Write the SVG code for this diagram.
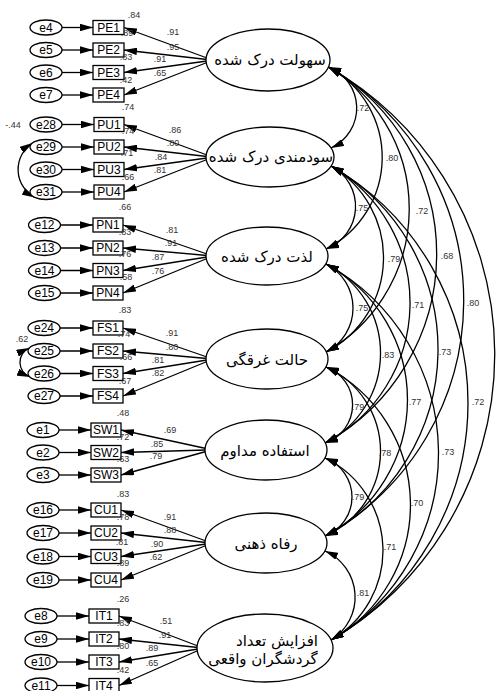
<svg xmlns="http://www.w3.org/2000/svg" width="500" height="691" viewBox="0 0 500 691">
  <defs>
    <marker id="ah" viewBox="0 0 13 7.5" refX="13" refY="3.75" markerWidth="13" markerHeight="7.5" markerUnits="userSpaceOnUse" orient="auto-start-reverse">
      <path d="M0,0 L13,3.75 L0,7.5 z" fill="#000"/>
    </marker>
    <style>
      .shape { fill: #fff; stroke: #000; stroke-width: 1.3; }
      .ln { fill: none; stroke: #000; stroke-width: 1.3; }
      .arr { marker-end: url(#ah); }
      .cov { marker-start: url(#ah); marker-end: url(#ah); }
      .lbl { font-family: "Liberation Sans", Arial, sans-serif; font-size: 12px; text-anchor: middle; fill: #000; }
      .num { font-family: "Liberation Sans", Arial, sans-serif; font-size: 9px; text-anchor: middle; fill: #333; }
      .fa { font-family: "DejaVu Sans", sans-serif; font-size: 15px; text-anchor: middle; fill: #000; }
    </style>
  </defs>

  <!-- connectors: error arrows, loadings, covariances -->
  <g id="connectors">
    <!-- error terms to indicators -->
    <g class="ln arr">
      <path d="M62,27.5 L93,27.5"/><path d="M62,50 L93,50"/><path d="M62,72.5 L93,72.5"/><path d="M62,95 L93,95"/>
      <path d="M62,124.5 L94,124.5"/><path d="M62,147 L94,147"/><path d="M62,169.5 L94,169.5"/><path d="M62,192 L94,192"/>
      <path d="M60.5,225 L93,225"/><path d="M60.5,248 L93,248"/><path d="M60.5,270.5 L93,270.5"/><path d="M60.5,293 L93,293"/>
      <path d="M60,328 L93,328"/><path d="M60,351 L93,351"/><path d="M60,373.5 L93,373.5"/><path d="M60,396 L93,396"/>
      <path d="M59,430 L91,430"/><path d="M59,452.5 L91,452.5"/><path d="M59,475 L91,475"/>
      <path d="M59,510 L91,510"/><path d="M59,533 L91,533"/><path d="M59,556.5 L91,556.5"/><path d="M59,580 L91,580"/>
      <path d="M57,616 L89,616"/><path d="M57,639 L89,639"/><path d="M57,662 L89,662"/><path d="M57,685.5 L89,685.5"/>
    </g>
    <!-- factor loadings -->
    <g class="ln arr">
      <path d="M207,58 L124,27.5"/><path d="M207,59.5 L124,50"/><path d="M207,61 L124,72.5"/><path d="M207,62.5 L124,95"/>
      <path d="M207,155 L124,124.5"/><path d="M207,156.5 L124,147"/><path d="M207,158 L124,169.5"/><path d="M207,159.5 L124,192"/>
      <path d="M207,254 L123,225"/><path d="M207,255.5 L123,248"/><path d="M207,257 L123,270.5"/><path d="M207,258.5 L123,293"/>
      <path d="M207,357 L123,328"/><path d="M207,358.5 L123,351"/><path d="M207,360 L123,373.5"/><path d="M207,361.5 L123,396"/>
      <path d="M206,448.5 L121,430"/><path d="M206,450 L121,452.5"/><path d="M206,451.5 L121,475"/>
      <path d="M206,541 L121,510"/><path d="M206,542.5 L121,533"/><path d="M206,544 L121,556.5"/><path d="M206,545.5 L121,580"/>
      <path d="M198,646 L119,616"/><path d="M198,647.5 L119,639"/><path d="M198,649 L119,662"/><path d="M198,650.5 L119,685.5"/>
    </g>
    <!-- error covariances -->
    <g class="ln cov">
      <path d="M32.5,143 A31.6,31.6 0 0 0 35,197.5"/>
      <path d="M29.3,348 A15.7,15.7 0 0 0 30,377"/>
    </g>
    <!-- latent covariances -->
    <g class="ln cov">
      <path d="M328.4,67 A43.9,43.9 0 0 1 331,148"/>
      <path d="M331,166 A45.5,45.5 0 0 1 326,249"/>
      <path d="M326,264 A49.35,49.35 0 0 1 326,352"/>
      <path d="M326,367 A40.2,40.2 0 0 1 325,443"/>
      <path d="M325,458 A41.67,41.67 0 0 1 325,536"/>
      <path d="M325,551 A50.3,50.3 0 0 1 331,640"/>
      <path d="M328.4,67 A102.8,102.8 0 0 1 326,249"/>
      <path d="M331,166 A106.2,106.2 0 0 1 326,352"/>
      <path d="M326,264 A100.3,100.3 0 0 1 325,443"/>
      <path d="M326,367 A92.4,92.4 0 0 1 325,536"/>
      <path d="M325,458 A102.9,102.9 0 0 1 331,640"/>
      <path d="M328.4,67 A164.8,164.8 0 0 1 326,352"/>
      <path d="M331,166 A158,158 0 0 1 325,443"/>
      <path d="M326,264 A153.8,153.8 0 0 1 325,536"/>
      <path d="M326,367 A154.7,154.7 0 0 1 331,640"/>
      <path d="M328.4,67 A215.7,215.7 0 0 1 325,443"/>
      <path d="M331,166 A210.6,210.6 0 0 1 325,536"/>
      <path d="M326,264 A215.7,215.7 0 0 1 331,640"/>
      <path d="M328.4,67 A269.2,269.2 0 0 1 325,536"/>
      <path d="M331,166 A273.5,273.5 0 0 1 331,640"/>
      <path d="M328.4,67 A331.2,331.2 0 0 1 331,640"/>
    </g>
    <!-- loading estimates -->
    <g class="num">
      <text x="173" y="35">.91</text><text x="173" y="50">.95</text><text x="160" y="62">.91</text><text x="160" y="76">.65</text>
      <text x="175" y="133">.86</text><text x="173" y="146">.80</text><text x="161" y="160">.84</text><text x="160" y="173">.81</text>
      <text x="172" y="233">.81</text><text x="171" y="246">.91</text><text x="158" y="260">.87</text><text x="158" y="274">.76</text>
      <text x="172" y="336">.91</text><text x="172" y="350">.80</text><text x="158" y="363">.81</text><text x="158" y="376">.82</text>
      <text x="170" y="433">.69</text><text x="157" y="447">.85</text><text x="156" y="459">.79</text>
      <text x="170" y="520">.91</text><text x="170" y="533">.88</text><text x="157" y="547">.90</text><text x="156" y="560">.62</text>
      <text x="166" y="624">.51</text><text x="165" y="638">.91</text><text x="152" y="651">.89</text><text x="152" y="666">.65</text>
    </g>
    <!-- covariance estimates -->
    <g class="num">
      <text x="13" y="128">-.44</text><text x="22" y="342">.62</text>
      <text x="363" y="111">.72</text><text x="392" y="161">.80</text><text x="422" y="214">.72</text><text x="447" y="259">.68</text><text x="473" y="306">.80</text>
      <text x="362" y="211">.75</text><text x="394" y="262">.79</text><text x="418" y="308">.71</text><text x="445" y="355">.73</text><text x="478" y="405">.72</text>
      <text x="362" y="311">.75</text><text x="388" y="358">.83</text><text x="415" y="405">.77</text><text x="448" y="455">.73</text>
      <text x="358" y="410">.79</text><text x="385" y="456">.78</text><text x="417" y="506">.70</text>
      <text x="358" y="500">.79</text><text x="390" y="550">.71</text>
      <text x="363" y="596">.81</text>
    </g>
  </g>

  <!-- latent variables -->
  <g id="PEOU"><ellipse class="shape" cx="268" cy="60" rx="62" ry="31"/><text class="fa" x="270" y="65">سهولت درک شده</text></g>
  <g id="PU"><ellipse class="shape" cx="270" cy="157" rx="64" ry="30"/><text class="fa" x="271" y="162">سودمندی درک شده</text></g>
  <g id="PN"><ellipse class="shape" cx="267" cy="256" rx="61" ry="29"/><text class="fa" x="267" y="261.5">لذت درک شده</text></g>
  <g id="FS"><ellipse class="shape" cx="267" cy="359" rx="61" ry="30"/><text class="fa" x="267" y="364.5">حالت غرقگی</text></g>
  <g id="SW"><ellipse class="shape" cx="266" cy="450" rx="61" ry="30"/><text class="fa" x="265" y="455.5">استفاده مداوم</text></g>
  <g id="CU"><ellipse class="shape" cx="266" cy="543" rx="61" ry="30"/><text class="fa" x="266" y="548.5">رفاه ذهنی</text></g>
  <g id="IT"><ellipse class="shape" cx="265" cy="648" rx="68" ry="34"/><text class="fa" x="277" y="646">افزایش تعداد</text><text class="fa" x="263" y="664">گردشگران واقعی</text></g>

  <!-- indicators with squared multiple correlations -->
  <g id="PE1"><rect class="shape" x="93" y="20.5" width="31" height="14"/><text class="lbl" x="108.5" y="31.7">PE1</text><text class="num" x="134" y="18">.84</text></g>
  <g id="PE2"><rect class="shape" x="93" y="43" width="31" height="14"/><text class="lbl" x="108.5" y="54.2">PE2</text><text class="num" x="127" y="36">.89</text></g>
  <g id="PE3"><rect class="shape" x="93" y="65.5" width="31" height="14"/><text class="lbl" x="108.5" y="76.7">PE3</text><text class="num" x="126" y="60">.83</text></g>
  <g id="PE4"><rect class="shape" x="93" y="88" width="31" height="14"/><text class="lbl" x="108.5" y="99.2">PE4</text><text class="num" x="126" y="83">.42</text></g>

  <g id="PU1"><rect class="shape" x="94" y="117.5" width="30" height="14"/><text class="lbl" x="109" y="128.7">PU1</text><text class="num" x="128" y="110">.74</text></g>
  <g id="PU2"><rect class="shape" x="94" y="140" width="30" height="14"/><text class="lbl" x="109" y="151.2">PU2</text><text class="num" x="128" y="134">.74</text></g>
  <g id="PU3"><rect class="shape" x="94" y="162.5" width="30" height="14"/><text class="lbl" x="109" y="173.7">PU3</text><text class="num" x="127" y="156">.71</text></g>
  <g id="PU4"><rect class="shape" x="94" y="185" width="30" height="14"/><text class="lbl" x="109" y="196.2">PU4</text><text class="num" x="128" y="180">.66</text></g>

  <g id="PN1"><rect class="shape" x="93" y="218" width="30" height="14"/><text class="lbl" x="108" y="229.2">PN1</text><text class="num" x="125" y="210">.66</text></g>
  <g id="PN2"><rect class="shape" x="93" y="241" width="30" height="14"/><text class="lbl" x="108" y="252.2">PN2</text><text class="num" x="125" y="235">.83</text></g>
  <g id="PN3"><rect class="shape" x="93" y="263.5" width="30" height="14"/><text class="lbl" x="108" y="274.7">PN3</text><text class="num" x="125" y="257">.76</text></g>
  <g id="PN4"><rect class="shape" x="93" y="286" width="30" height="14"/><text class="lbl" x="108" y="297.2">PN4</text><text class="num" x="126" y="280">.58</text></g>

  <g id="FS1"><rect class="shape" x="93" y="321" width="30" height="14"/><text class="lbl" x="108" y="332.2">FS1</text><text class="num" x="125" y="313">.83</text></g>
  <g id="FS2"><rect class="shape" x="93" y="344" width="30" height="14"/><text class="lbl" x="108" y="355.2">FS2</text><text class="num" x="124" y="337">.74</text></g>
  <g id="FS3"><rect class="shape" x="93" y="366.5" width="30" height="14"/><text class="lbl" x="108" y="377.7">FS3</text><text class="num" x="126" y="360">.66</text></g>
  <g id="FS4"><rect class="shape" x="93" y="389" width="30" height="14"/><text class="lbl" x="108" y="400.2">FS4</text><text class="num" x="125" y="384">.67</text></g>

  <g id="SW1"><rect class="shape" x="91" y="423" width="30" height="14"/><text class="lbl" x="106" y="434.2">SW1</text><text class="num" x="123" y="416">.48</text></g>
  <g id="SW2"><rect class="shape" x="91" y="445.5" width="30" height="14"/><text class="lbl" x="106" y="456.7">SW2</text><text class="num" x="123" y="440">.72</text></g>
  <g id="SW3"><rect class="shape" x="91" y="468" width="30" height="14"/><text class="lbl" x="106" y="479.2">SW3</text><text class="num" x="123" y="462">.63</text></g>

  <g id="CU1"><rect class="shape" x="91" y="503" width="30" height="14"/><text class="lbl" x="106" y="514.2">CU1</text><text class="num" x="123" y="497">.83</text></g>
  <g id="CU2"><rect class="shape" x="91" y="526" width="30" height="14"/><text class="lbl" x="106" y="537.2">CU2</text><text class="num" x="123" y="520">.78</text></g>
  <g id="CU3"><rect class="shape" x="91" y="549.5" width="30" height="14"/><text class="lbl" x="106" y="560.7">CU3</text><text class="num" x="122" y="545">.81</text></g>
  <g id="CU4"><rect class="shape" x="91" y="573" width="30" height="14"/><text class="lbl" x="106" y="584.2">CU4</text><text class="num" x="123" y="566">.89</text></g>

  <g id="IT1"><rect class="shape" x="89" y="609" width="30" height="14"/><text class="lbl" x="104" y="620.2">IT1</text><text class="num" x="123" y="602">.26</text></g>
  <g id="IT2"><rect class="shape" x="89" y="632" width="30" height="14"/><text class="lbl" x="104" y="643.2">IT2</text><text class="num" x="123" y="626">.83</text></g>
  <g id="IT3"><rect class="shape" x="89" y="655" width="30" height="14"/><text class="lbl" x="104" y="666.2">IT3</text><text class="num" x="123" y="649">.80</text></g>
  <g id="IT4"><rect class="shape" x="89" y="678.5" width="30" height="14"/><text class="lbl" x="104" y="689.7">IT4</text><text class="num" x="123" y="673">.42</text></g>

  <!-- error terms -->
  <g id="e4"><ellipse class="shape" cx="46" cy="27.5" rx="16" ry="7.5"/><text class="lbl" x="46" y="31.7">e4</text></g>
  <g id="e5"><ellipse class="shape" cx="46" cy="50" rx="16" ry="7.5"/><text class="lbl" x="46" y="54.2">e5</text></g>
  <g id="e6"><ellipse class="shape" cx="46" cy="72.5" rx="16" ry="7.5"/><text class="lbl" x="46" y="76.7">e6</text></g>
  <g id="e7"><ellipse class="shape" cx="46" cy="95" rx="16" ry="7.5"/><text class="lbl" x="46" y="99.2">e7</text></g>
  <g id="e28"><ellipse class="shape" cx="46" cy="124.5" rx="16" ry="7.5"/><text class="lbl" x="46" y="128.7">e28</text></g>
  <g id="e29"><ellipse class="shape" cx="46" cy="147" rx="16" ry="7.5"/><text class="lbl" x="46" y="151.2">e29</text></g>
  <g id="e30"><ellipse class="shape" cx="46" cy="169.5" rx="16" ry="7.5"/><text class="lbl" x="46" y="173.7">e30</text></g>
  <g id="e31"><ellipse class="shape" cx="46" cy="192" rx="16" ry="7.5"/><text class="lbl" x="46" y="196.2">e31</text></g>
  <g id="e12"><ellipse class="shape" cx="44.5" cy="225" rx="16" ry="7.5"/><text class="lbl" x="44.5" y="229.2">e12</text></g>
  <g id="e13"><ellipse class="shape" cx="44.5" cy="248" rx="16" ry="7.5"/><text class="lbl" x="44.5" y="252.2">e13</text></g>
  <g id="e14"><ellipse class="shape" cx="44.5" cy="270.5" rx="16" ry="7.5"/><text class="lbl" x="44.5" y="274.7">e14</text></g>
  <g id="e15"><ellipse class="shape" cx="44.5" cy="293" rx="16" ry="7.5"/><text class="lbl" x="44.5" y="297.2">e15</text></g>
  <g id="e24"><ellipse class="shape" cx="44" cy="328" rx="16" ry="7.5"/><text class="lbl" x="44" y="332.2">e24</text></g>
  <g id="e25"><ellipse class="shape" cx="44" cy="351" rx="16" ry="7.5"/><text class="lbl" x="44" y="355.2">e25</text></g>
  <g id="e26"><ellipse class="shape" cx="44" cy="373.5" rx="16" ry="7.5"/><text class="lbl" x="44" y="377.7">e26</text></g>
  <g id="e27"><ellipse class="shape" cx="44" cy="396" rx="16" ry="7.5"/><text class="lbl" x="44" y="400.2">e27</text></g>
  <g id="e1"><ellipse class="shape" cx="43" cy="430" rx="16" ry="7.5"/><text class="lbl" x="43" y="434.2">e1</text></g>
  <g id="e2"><ellipse class="shape" cx="43" cy="452.5" rx="16" ry="7.5"/><text class="lbl" x="43" y="456.7">e2</text></g>
  <g id="e3"><ellipse class="shape" cx="43" cy="475" rx="16" ry="7.5"/><text class="lbl" x="43" y="479.2">e3</text></g>
  <g id="e16"><ellipse class="shape" cx="43" cy="510" rx="16" ry="7.5"/><text class="lbl" x="43" y="514.2">e16</text></g>
  <g id="e17"><ellipse class="shape" cx="43" cy="533" rx="16" ry="7.5"/><text class="lbl" x="43" y="537.2">e17</text></g>
  <g id="e18"><ellipse class="shape" cx="43" cy="556.5" rx="16" ry="7.5"/><text class="lbl" x="43" y="560.7">e18</text></g>
  <g id="e19"><ellipse class="shape" cx="43" cy="580" rx="16" ry="7.5"/><text class="lbl" x="43" y="584.2">e19</text></g>
  <g id="e8"><ellipse class="shape" cx="41" cy="616" rx="16" ry="7.5"/><text class="lbl" x="41" y="620.2">e8</text></g>
  <g id="e9"><ellipse class="shape" cx="41" cy="639" rx="16" ry="7.5"/><text class="lbl" x="41" y="643.2">e9</text></g>
  <g id="e10"><ellipse class="shape" cx="41" cy="662" rx="16" ry="7.5"/><text class="lbl" x="41" y="666.2">e10</text></g>
  <g id="e11"><ellipse class="shape" cx="41" cy="685.5" rx="16" ry="7.5"/><text class="lbl" x="41" y="689.7">e11</text></g>
</svg>
